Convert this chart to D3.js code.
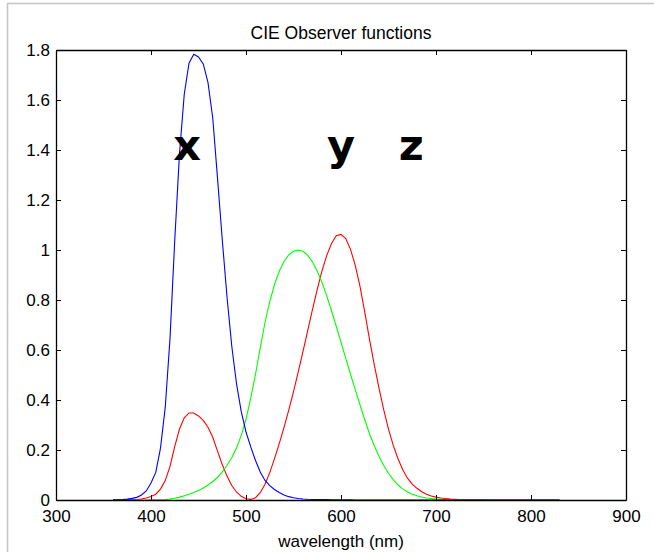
<!DOCTYPE html>
<html>
<head>
<meta charset="utf-8">
<script src="https://cdn.jsdelivr.net/npm/d3@7"></script>
<style>
  body { margin: 0; background: #fff; }
  svg { display: block; }
  text { font-family: "Liberation Sans", Arial, sans-serif; }
</style>
</head>
<body>
<svg id="chart" width="654" height="552"></svg>
<script>
// wavelengths, 360..830 nm in 5 nm steps
const wavelength = d3.range(360, 831, 5);

// red curve (x-bar)
const xBar = [
  0.000130, 0.000232, 0.000415, 0.000742, 0.001368, 0.002236, 0.004243, 0.007650,
  0.014310, 0.023190, 0.043510, 0.077630, 0.134380, 0.214770, 0.283900, 0.328500,
  0.348280, 0.348060, 0.336200, 0.318700, 0.290800, 0.251100, 0.195360, 0.142100,
  0.095640, 0.057950, 0.032010, 0.014700, 0.004900, 0.002400, 0.009300, 0.029100,
  0.063270, 0.109600, 0.165500, 0.225750, 0.290400, 0.359700, 0.433450, 0.512050,
  0.594500, 0.678400, 0.762100, 0.842500, 0.916300, 0.978600, 1.026300, 1.056700,
  1.062200, 1.045600, 1.002600, 0.938400, 0.854450, 0.751400, 0.642400, 0.541900,
  0.447900, 0.360800, 0.283500, 0.218700, 0.164900, 0.121200, 0.087400, 0.063600,
  0.046770, 0.032900, 0.022700, 0.015840, 0.011359, 0.008111, 0.005790, 0.004109,
  0.002899, 0.002049, 0.001440, 0.001000, 0.000690, 0.000476, 0.000332, 0.000235,
  0.000166, 0.000117, 0.000083, 0.000059, 0.000042, 0.000030, 0.000021, 0.000015,
  0.000010, 0.000007, 0.000005, 0.000004, 0.000003, 0.000002, 0.000001
];

// green curve (y-bar)
const yBar = [
  0.000004, 0.000007, 0.000012, 0.000022, 0.000039, 0.000064, 0.000120, 0.000217,
  0.000396, 0.000640, 0.001210, 0.002180, 0.004000, 0.007300, 0.011600, 0.016840,
  0.023000, 0.029800, 0.038000, 0.048000, 0.060000, 0.073900, 0.090980, 0.112600,
  0.139020, 0.169300, 0.208020, 0.258600, 0.323000, 0.407300, 0.503000, 0.608200,
  0.710000, 0.793200, 0.862000, 0.914850, 0.954000, 0.980300, 0.994950, 1.000000,
  0.995000, 0.978600, 0.952000, 0.915400, 0.870000, 0.816300, 0.757000, 0.694900,
  0.631000, 0.566800, 0.503000, 0.441200, 0.381000, 0.321000, 0.265000, 0.217000,
  0.175000, 0.138200, 0.107000, 0.081600, 0.061000, 0.044580, 0.032000, 0.023200,
  0.017000, 0.011920, 0.008210, 0.005723, 0.004102, 0.002929, 0.002091, 0.001484,
  0.001047, 0.000740, 0.000520, 0.000361, 0.000249, 0.000172, 0.000120, 0.000085,
  0.000060, 0.000042, 0.000030, 0.000021, 0.000015, 0.000011, 0.000007, 0.000005,
  0.000004, 0.000003, 0.000002, 0.000001, 0.000001, 0.000001, 0.000000
];

// blue curve (z-bar)
const zBar = [
  0.000606, 0.001086, 0.001946, 0.003486, 0.006450, 0.010550, 0.020050, 0.036210,
  0.067850, 0.110200, 0.207400, 0.371300, 0.645600, 1.039050, 1.385600, 1.622960,
  1.747060, 1.782600, 1.772110, 1.744100, 1.669200, 1.528100, 1.287640, 1.041900,
  0.812950, 0.616200, 0.465180, 0.353300, 0.272000, 0.212300, 0.158200, 0.111700,
  0.078250, 0.057250, 0.042160, 0.029840, 0.020300, 0.013400, 0.008750, 0.005750,
  0.003900, 0.002750, 0.002100, 0.001800, 0.001650, 0.001400, 0.001100, 0.001000,
  0.000800, 0.000600, 0.000340, 0.000240, 0.000190, 0.000100, 0.000050, 0.000030,
  0.000020, 0.000010, 0, 0, 0, 0, 0, 0,
  0, 0, 0, 0, 0, 0, 0, 0,
  0, 0, 0, 0, 0, 0, 0, 0,
  0, 0, 0, 0, 0, 0, 0, 0,
  0, 0, 0, 0, 0, 0, 0
];

const xTicks = [300, 400, 500, 600, 700, 800, 900];
const yTicks = [0, 0.2, 0.4, 0.6, 0.8, 1, 1.2, 1.4, 1.6, 1.8];

const curveLabels = [
  { text: "x", wl: 438 },
  { text: "y", wl: 600 },
  { text: "z", wl: 674 }
];

const width = 654, height = 552;
const margin = { top: 50, right: 28, bottom: 52, left: 56 };
const iw = width - margin.left - margin.right;
const ih = height - margin.top - margin.bottom;

const svg = d3.select("#chart");

// grey window frame, top and left
svg.append("path")
  .attr("d", `M7.5,${height} V3.5 H${width}`)
  .attr("fill", "none")
  .attr("stroke", "#c4c4c4")
  .attr("stroke-width", 1.5);

const g = svg.append("g")
  .attr("transform", `translate(${margin.left},${margin.top})`);

const x = d3.scaleLinear().domain([300, 900]).range([0, iw]);
const y = d3.scaleLinear().domain([0, 1.8]).range([ih, 0]);

// curves: red, then green, then blue on top
const series = [
  { values: xBar, color: "#ff0000" },
  { values: yBar, color: "#00ff00" },
  { values: zBar, color: "#0000ff" }
];

const line = d3.line()
  .x((d, i) => x(wavelength[i]))
  .y(d => y(d));

g.selectAll("path.curve")
  .data(series)
  .enter()
  .append("path")
  .attr("class", "curve")
  .attr("d", d => line(d.values))
  .attr("fill", "none")
  .attr("stroke", d => d.color)
  .attr("stroke-width", 1.1);

// axes, MATLAB style: ticks pointing inward on all four sides
const fmt = d => String(d);

g.append("g")
  .attr("transform", `translate(0,${ih})`)
  .call(d3.axisBottom(x).tickValues(xTicks).tickFormat(fmt).tickSizeInner(-5).tickSizeOuter(0).tickPadding(10));

g.append("g")
  .call(d3.axisLeft(y).tickValues(yTicks).tickFormat(fmt).tickSizeInner(-5).tickSizeOuter(0).tickPadding(6));

g.append("g")
  .call(d3.axisTop(x).tickValues(xTicks).tickFormat("").tickSizeInner(-5).tickSizeOuter(0));

g.append("g")
  .attr("transform", `translate(${iw},0)`)
  .call(d3.axisRight(y).tickValues(yTicks).tickFormat("").tickSizeInner(-5).tickSizeOuter(0));

g.selectAll(".domain").attr("stroke", "#000").attr("stroke-width", 1.3);
g.selectAll(".tick line").attr("stroke", "#000");
g.selectAll(".tick text")
  .attr("fill", "#000")
  .style("font-size", "17px")
  .style("font-family", "'Liberation Sans', Arial, sans-serif");

// title and axis label
svg.append("text")
  .attr("x", margin.left + iw / 2)
  .attr("y", 39)
  .attr("text-anchor", "middle")
  .style("font-size", "17.5px")
  .text("CIE Observer functions");

svg.append("text")
  .attr("x", margin.left + iw / 2)
  .attr("y", 547)
  .attr("text-anchor", "middle")
  .style("font-size", "17px")
  .text("wavelength (nm)");

// big curve letters
g.selectAll("text.curve-label")
  .data(curveLabels)
  .enter()
  .append("text")
  .attr("class", "curve-label")
  .attr("x", d => x(d.wl))
  .attr("y", y(1.36))
  .attr("text-anchor", "middle")
  .style("font-family", "'DejaVu Sans', Verdana, sans-serif")
  .style("font-weight", "bold")
  .style("font-size", "43px")
  .text(d => d.text);
</script>
</body>
</html>
